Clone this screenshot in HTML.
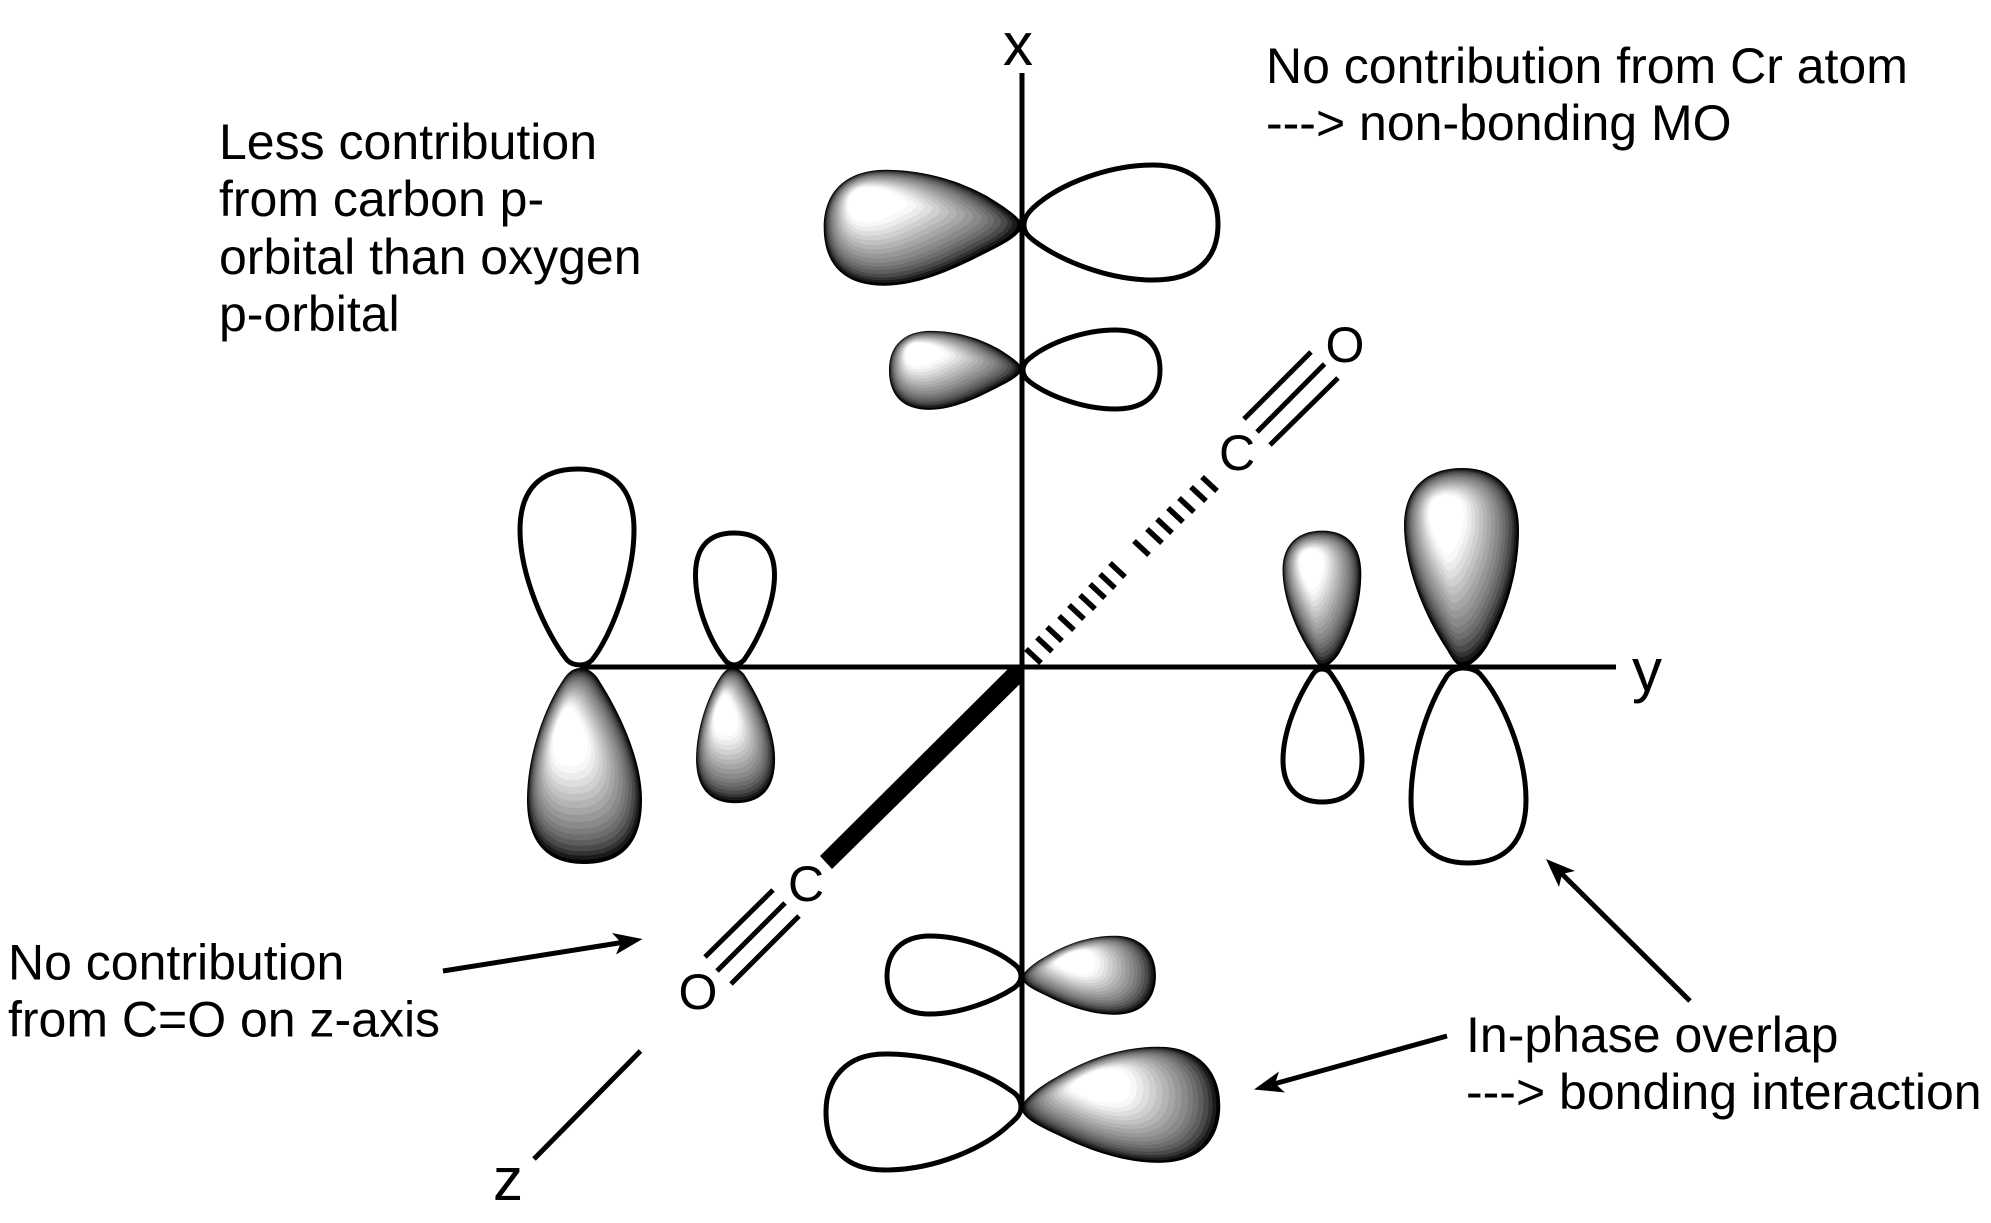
<!DOCTYPE html>
<html><head><meta charset="utf-8"><style>html,body{margin:0;padding:0;background:#fff}svg{display:block}text{font-family:"Liberation Sans",Arial,sans-serif;fill:#000}</style></head>
<body>
<svg width="1991" height="1223" viewBox="0 0 1991 1223" xmlns="http://www.w3.org/2000/svg">
<defs>
<path id="pL" d="M162 30C161 22 140 9 127 1C100-14 65-25 27-25C-15-25-35-1-35 32C-35 69-15 90 25 90C60 90 98 72 127 57C143 49 161 40 162 30Z"/>
<path id="pU" d="M23 160C17 160 12 152 7 143C-13 113-36 63-36 18C-36-17-15-39 22-39C58-39 79-17 79 23C79 68 65 108 47 140C40 151 30 160 23 160Z"/>
<path id="pD" d="M16-56C9-56 4-51 1-47C-19-19-37 31-37 76C-37 116-19 140 20 140C61 140 78 116 78 76C78 41 61-4 33-47C28-53 23-56 16-56Z"/>
<path id="pR" d="M-70 30C-69 22-52 8-35-1C-7-18 28-31 66-31C106-31 127-6 127 27C127 62 106 84 66 84C30 84-7 70-35 56C-52 48-69 40-70 30Z"/>
<g id="gL">
<use href="#pL" fill="#000"/><use href="#pL" transform="scale(.97)" fill="#1a1a1a"/><use href="#pL" transform="scale(.94)" fill="#333"/><use href="#pL" transform="scale(.91)" fill="#4a4a4a"/><use href="#pL" transform="scale(.87)" fill="#5e5e5e"/><use href="#pL" transform="scale(.83)" fill="#6e6e6e"/><use href="#pL" transform="scale(.79)" fill="#7c7c7c"/><use href="#pL" transform="scale(.75)" fill="#8a8a8a"/><use href="#pL" transform="scale(.7)" fill="#989898"/><use href="#pL" transform="scale(.65)" fill="#a6a6a6"/><use href="#pL" transform="scale(.6)" fill="#b4b4b4"/><use href="#pL" transform="scale(.55)" fill="#c2c2c2"/><use href="#pL" transform="scale(.5)" fill="#d0d0d0"/><use href="#pL" transform="scale(.45)" fill="#dedede"/><use href="#pL" transform="scale(.4)" fill="#ececec"/><use href="#pL" transform="scale(.35)" fill="#f8f8f8"/><use href="#pL" transform="scale(.3)" fill="#fff"/>
</g>
<g id="gU">
<use href="#pU" fill="#000"/><use href="#pU" transform="scale(.97)" fill="#1a1a1a"/><use href="#pU" transform="scale(.94)" fill="#333"/><use href="#pU" transform="scale(.91)" fill="#4a4a4a"/><use href="#pU" transform="scale(.87)" fill="#5e5e5e"/><use href="#pU" transform="scale(.83)" fill="#6e6e6e"/><use href="#pU" transform="scale(.79)" fill="#7c7c7c"/><use href="#pU" transform="scale(.75)" fill="#8a8a8a"/><use href="#pU" transform="scale(.7)" fill="#989898"/><use href="#pU" transform="scale(.65)" fill="#a6a6a6"/><use href="#pU" transform="scale(.6)" fill="#b4b4b4"/><use href="#pU" transform="scale(.55)" fill="#c2c2c2"/><use href="#pU" transform="scale(.5)" fill="#d0d0d0"/><use href="#pU" transform="scale(.45)" fill="#dedede"/><use href="#pU" transform="scale(.4)" fill="#ececec"/><use href="#pU" transform="scale(.35)" fill="#f8f8f8"/><use href="#pU" transform="scale(.3)" fill="#fff"/>
</g>
<g id="gD">
<use href="#pD" fill="#000"/><use href="#pD" transform="scale(.97)" fill="#1a1a1a"/><use href="#pD" transform="scale(.94)" fill="#333"/><use href="#pD" transform="scale(.91)" fill="#4a4a4a"/><use href="#pD" transform="scale(.87)" fill="#5e5e5e"/><use href="#pD" transform="scale(.83)" fill="#6e6e6e"/><use href="#pD" transform="scale(.79)" fill="#7c7c7c"/><use href="#pD" transform="scale(.75)" fill="#8a8a8a"/><use href="#pD" transform="scale(.7)" fill="#989898"/><use href="#pD" transform="scale(.65)" fill="#a6a6a6"/><use href="#pD" transform="scale(.6)" fill="#b4b4b4"/><use href="#pD" transform="scale(.55)" fill="#c2c2c2"/><use href="#pD" transform="scale(.5)" fill="#d0d0d0"/><use href="#pD" transform="scale(.45)" fill="#dedede"/><use href="#pD" transform="scale(.4)" fill="#ececec"/><use href="#pD" transform="scale(.35)" fill="#f8f8f8"/><use href="#pD" transform="scale(.3)" fill="#fff"/>
</g>
<g id="gR">
<use href="#pR" fill="#000"/><use href="#pR" transform="scale(.97)" fill="#1a1a1a"/><use href="#pR" transform="scale(.94)" fill="#333"/><use href="#pR" transform="scale(.91)" fill="#4a4a4a"/><use href="#pR" transform="scale(.87)" fill="#5e5e5e"/><use href="#pR" transform="scale(.83)" fill="#6e6e6e"/><use href="#pR" transform="scale(.79)" fill="#7c7c7c"/><use href="#pR" transform="scale(.75)" fill="#8a8a8a"/><use href="#pR" transform="scale(.7)" fill="#989898"/><use href="#pR" transform="scale(.65)" fill="#a6a6a6"/><use href="#pR" transform="scale(.6)" fill="#b4b4b4"/><use href="#pR" transform="scale(.55)" fill="#c2c2c2"/><use href="#pR" transform="scale(.5)" fill="#d0d0d0"/><use href="#pR" transform="scale(.45)" fill="#dedede"/><use href="#pR" transform="scale(.4)" fill="#ececec"/><use href="#pR" transform="scale(.35)" fill="#f8f8f8"/><use href="#pR" transform="scale(.3)" fill="#fff"/>
</g>
</defs>
<rect width="1991" height="1223" fill="#fff"/>

<!-- shaded lobes -->
<use href="#gL" transform="translate(859 195) scale(1.008)"/>
<use href="#gL" transform="translate(912.600 348) scale(.675 .687)"/>
<use href="#gU" transform="translate(1440 507)"/>
<use href="#gU" transform="translate(1307.200 557.400) scale(.685)"/>
<use href="#gD" transform="translate(564 724)"/>
<use href="#gD" transform="translate(721.500 706.600) scale(.687 .69)"/>
<use href="#gR" transform="translate(1092 1078) scale(1.01)"/>
<use href="#gR" transform="translate(1069.600 957) scale(.68 .687)"/>

<!-- outlined lobes -->
<g fill="#fff" stroke="#000" stroke-width="5" stroke-linejoin="round">
<path d="M1024 225C1024 218 1028 213 1033 208C1060 183 1110 165 1153 165C1195 165 1218 190 1218 224C1218 258 1198 280 1153 280C1110 280 1062 262 1033 240C1028 236 1024 232 1024 225Z"/>
<path d="M1023 370C1023 365 1026 361 1030 358C1050 342 1085 330 1115 330C1145 330 1160 345 1160 370C1160 395 1145 409 1115 409C1085 409 1050 397 1030 382C1026 379 1023 375 1023 370Z"/>
<path d="M580 665C575 665 570 663 567 660C545 632 520 575 520 530C520 490 540 469 578 469C615 469 634 490 634 530C634 575 612 635 592 660C589 663 585 665 580 665Z"/>
<path d="M734 665C731 665 727 663 725 660C709 640 695.500 605 695.500 575C695.500 548 708 533 734 533C760 533 774.500 548 774.500 575C774.500 605 758 640 744 660C741 663 738 665 734 665Z"/>
<path d="M1322 669C1326 669 1329 671 1331 674C1348 698 1362 732 1362 760C1362 788 1347 802 1322 802C1298 802 1283 788 1283 760C1283 732 1297 698 1313 674C1315 671 1318 669 1322 669Z"/>
<path d="M1463 668C1470 668 1476 670 1480 674C1503 700 1526 755 1526 800C1526 840 1507 863 1468 863C1430 863 1411 840 1411 800C1411 755 1428 705 1447 676C1451 671 1457 668 1463 668Z"/>
<path d="M1021 976C1021 971 1018 967 1014 964C994 948 960 936 930 936C902 936 887 952 887 976C887 1000 902 1014 930 1014C960 1014 994 1001 1014 988C1018 985 1021 981 1021 976Z"/>
<path d="M1021 1107C1021 1100 1017 1094 1010 1090C985 1072 935 1054 885 1054C845 1054 826 1080 826 1112C826 1148 845 1170 885 1170C935 1170 985 1148 1010 1124C1017 1118 1021 1114 1021 1107Z"/>
</g>

<!-- axes -->
<g stroke="#000" stroke-width="5" fill="none">
<line x1="1022" y1="73" x2="1022" y2="1110"/>
<line x1="580" y1="667" x2="1616" y2="667"/>
<line x1="640.500" y1="1051" x2="534" y2="1159"/>
<!-- triple bonds -->
<line x1="1244" y1="419" x2="1311" y2="352"/>
<line x1="1257" y1="432" x2="1324.500" y2="364"/>
<line x1="1270" y1="445" x2="1338" y2="378"/>
<line x1="705" y1="957" x2="773" y2="890"/>
<line x1="717" y1="971" x2="785" y2="903"/>
<line x1="731" y1="984" x2="799" y2="916"/>
<!-- arrow shafts -->
<line x1="443" y1="971" x2="625" y2="942"/>
<line x1="1447" y1="1036" x2="1272" y2="1084.500"/>
<line x1="1690" y1="1001" x2="1560" y2="872"/>
</g>

<!-- wedge -->
<polygon points="1010,667 1022,667 1022,682 832,869 820,856" fill="#000"/>

<!-- hashed bond -->
<g stroke="#000" stroke-width="5.500">
<line x1="1026" y1="649" x2="1041" y2="663"/>
<line x1="1037" y1="637.500" x2="1052" y2="651.500"/>
<line x1="1047" y1="627" x2="1062" y2="641"/>
<line x1="1059" y1="616" x2="1074" y2="630"/>
<line x1="1069" y1="605" x2="1084" y2="619"/>
<line x1="1080" y1="595" x2="1095" y2="609"/>
<line x1="1090" y1="584" x2="1105" y2="598"/>
<line x1="1100" y1="574" x2="1115" y2="588"/>
<line x1="1110" y1="563" x2="1125" y2="577"/>
<line x1="1134" y1="541" x2="1149" y2="555"/>
<line x1="1147" y1="529" x2="1162" y2="543"/>
<line x1="1157" y1="519" x2="1172" y2="533"/>
<line x1="1168" y1="508" x2="1183" y2="522"/>
<line x1="1179" y1="498" x2="1194" y2="512"/>
<line x1="1191" y1="487" x2="1206" y2="501"/>
<line x1="1202" y1="477" x2="1217" y2="491"/>
</g>

<!-- arrow heads -->
<polygon points="642.500,939 612,933 621,942.500 616,954.500" fill="#000"/>
<polygon points="1254,1089.500 1279,1071.500 1275,1083.500 1285,1092.500" fill="#000"/>
<polygon points="1546,859 1575,871 1562,874 1559,887" fill="#000"/>

<!-- atoms -->
<g font-size="50" text-anchor="middle">
<text x="1237" y="470">C</text>
<text x="1345" y="362">O</text>
<text x="806" y="901">C</text>
<text x="698" y="1009">O</text>
</g>

<!-- axis labels -->
<g font-size="60">
<text x="1003" y="65">x</text>
<text x="1632" y="691">y</text>
<text x="493" y="1200">z</text>
</g>

<!-- captions -->
<g font-size="50">
<text x="1266" y="83">No contribution from Cr atom</text>
<text x="1266" y="140">---&gt; non-bonding MO</text>
<text x="219" y="159">Less contribution</text>
<text x="219" y="216">from carbon p-</text>
<text x="219" y="274">orbital than oxygen</text>
<text x="219" y="331">p-orbital</text>
<text x="8" y="979.500">No contribution</text>
<text x="8" y="1036.500">from C=O on z-axis</text>
<text x="1466" y="1052">In-phase overlap</text>
<text x="1466" y="1109">---&gt; bonding interaction</text>
</g>
</svg>
</body></html>
